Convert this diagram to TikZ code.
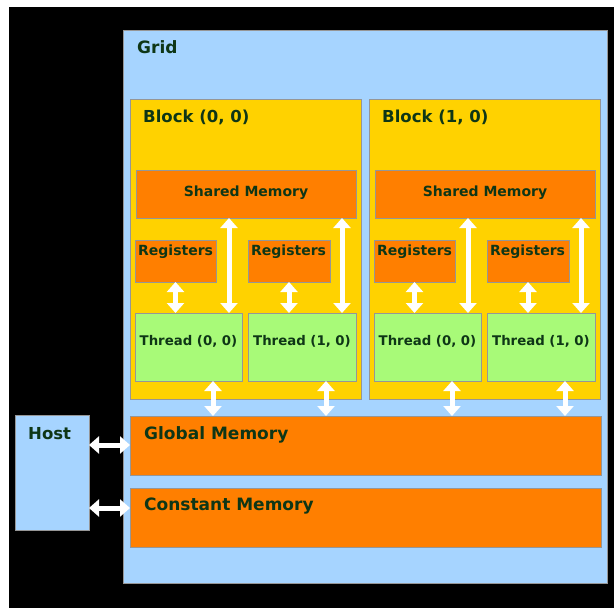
\documentclass[tikz,border=0pt]{standalone}
\usepackage{fontspec}
\setmainfont{DejaVu Sans}
\usetikzlibrary{arrows.meta,calc}
\definecolor{gridblue}{RGB}{166,212,255}
\definecolor{blockyel}{RGB}{255,210,0}
\definecolor{memorange}{RGB}{255,127,0}
\definecolor{thrgreen}{RGB}{168,250,120}
\definecolor{txtgreen}{RGB}{14,54,22}
\definecolor{edgegray}{RGB}{150,150,150}
\tikzset{
  box/.style={draw=edgegray, line width=0.8pt, anchor=north west, inner sep=0pt, outer sep=0pt},
  lbl/.style={text=txtgreen, font=\bfseries, inner sep=0pt, anchor=base west},
  clbl/.style={text=txtgreen, font=\bfseries, inner sep=0pt, anchor=base},
  wa/.style={draw=white, line width=5pt, {Triangle[width=17pt,length=10pt]}-{Triangle[width=17pt,length=10pt]}},
}
\begin{document}
\begin{tikzpicture}[x=1pt,y=-1pt]
\useasboundingbox (0,0) rectangle (614,608);
\fill[black] (9,7) rectangle (614,608);
% grid
\node[box, fill=gridblue, minimum width=484, minimum height=553] (grid) at (123,30) {};
\node[lbl, font=\fontsize{17}{20}\selectfont\bfseries] (gridt) at (137,53) {Grid};
% host
\node[box, fill=gridblue, minimum width=74, minimum height=115] (host) at (15,415) {};
\node[lbl, font=\fontsize{16.5}{20}\selectfont\bfseries] (hostt) at (28,439) {Host};
% global / constant
\node[box, fill=memorange, minimum width=471, minimum height=59] (glob) at (130,416) {};
\node[lbl, font=\fontsize{17}{20}\selectfont\bfseries] (globt) at (144,439) {Global Memory};
\node[box, fill=memorange, minimum width=471, minimum height=59] (cons) at (130,488) {};
\node[lbl, font=\fontsize{17}{20}\selectfont\bfseries] (const) at (144,510) {Constant Memory};
% blocks
\foreach \bx/\name/\lab in {130/b0/{Block (0, 0)}, 369/b1/{Block (1, 0)}} {
  \node[box, fill=blockyel, minimum width=231, minimum height=300] (\name) at (\bx,99) {};
  \node[lbl, font=\fontsize{16.5}{20}\selectfont\bfseries] (\name t) at (\bx+13,122) {\lab};
  \node[box, fill=memorange, minimum width=220, minimum height=48] (\name sm) at (\bx+6,170) {};
  \node[clbl, font=\fontsize{14}{16}\selectfont\bfseries] (\name smt) at ($(\name sm.north)+(0,26)$) {Shared Memory};
  \node[box, fill=memorange, minimum width=81, minimum height=42] (\name ra) at (\bx+5,240) {};
  \node[lbl, font=\fontsize{14}{16}\selectfont\bfseries] (\name rat) at (\bx+8,255) {Registers};
  \node[box, fill=memorange, minimum width=82, minimum height=42] (\name rb) at (\bx+118,240) {};
  \node[lbl, font=\fontsize{14}{16}\selectfont\bfseries] (\name rbt) at (\bx+121,255) {Registers};
  \node[box, fill=thrgreen, minimum width=107, minimum height=68] (\name ta) at (\bx+5,313) {};
  \node[clbl, font=\fontsize{13.3}{16}\selectfont\bfseries] (\name tat) at ($(\name ta.north)+(0,32)$) {Thread (0, 0)};
  \node[box, fill=thrgreen, minimum width=108, minimum height=68] (\name tb) at (\bx+118,313) {};
  \node[clbl, font=\fontsize{13.3}{16}\selectfont\bfseries] (\name tbt) at ($(\name tb.north)+(0,32)$) {Thread (1, 0)};
  % arrow anchor coordinates
  \coordinate (\name xa) at ($(\name ta.north east)+(-13,0)$);
  \coordinate (\name xb) at ($(\name tb.north east)+(-14,0)$);
  \coordinate (\name da) at ($(\name ta.south east)+(-29,0)$);
  \coordinate (\name db) at ($(\name tb.south east)+(-30,0)$);
  % arrows
  \draw[wa] (\name ra.south) -- (\name ra.south |- \name ta.north);
  \draw[wa] (\name rb.south) -- (\name rb.south |- \name tb.north);
  \draw[wa] (\name xa |- \name sm.south) -- (\name xa);
  \draw[wa] (\name xb |- \name sm.south) -- (\name xb);
  \draw[wa] (\name da) -- (\name da |- glob.north);
  \draw[wa] (\name db) -- (\name db |- glob.north);
}
% host arrows
\coordinate (ha) at ($(host.north east)+(0,30)$);
\coordinate (hb) at ($(host.north east)+(0,93)$);
\draw[wa] (ha) -- (ha -| glob.west);
\draw[wa] (hb) -- (hb -| cons.west);
\end{tikzpicture}
\end{document}
